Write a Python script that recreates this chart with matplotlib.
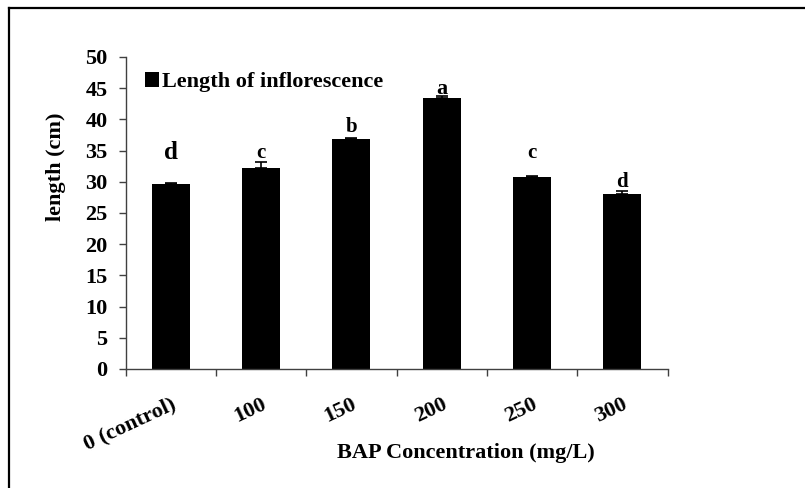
import matplotlib
matplotlib.use("Agg")
import matplotlib.pyplot as plt
from matplotlib.lines import Line2D
import numpy as np

# ---- data ----
categories = ["0 (control)", "100", "150", "200", "250", "300"]
lengths = [29.6, 32.2, 36.8, 43.4, 30.7, 28.1]
errors = [0.2, 1.0, 0.2, 0.3, 0.3, 0.4]
letters = ["d", "c", "b", "a", "c", "d"]
series_name = "Length of inflorescence"
x_title = "BAP Concentration (mg/L)"
y_title = "length (cm)"
y_ticks = [0, 5, 10, 15, 20, 25, 30, 35, 40, 45, 50]

# ---- style ----
plt.rcParams['font.family'] = ['Liberation Serif', 'DejaVu Serif']
plt.rcParams['font.weight'] = 'bold'
W, H = 805, 488
fig = plt.figure(figsize=(W / 100, H / 100), dpi=100)
ax = fig.add_axes([125.5 / W, 1 - 369 / H, (667.5 - 125.5) / W, (369 - 57) / H])

x = np.arange(len(categories))
ax.bar(x, lengths, width=0.42, color='black', label=series_name, zorder=2)
ax.errorbar(x, lengths, yerr=[np.zeros(len(errors)), errors], fmt='none',
            ecolor='black', elinewidth=1.2, capsize=4.5, capthick=1.2, zorder=3)

# significance letters (offset above error bar top, in points)
letter_offsets = [17, 3, 4.7, 2, 12.7, 3]
letter_sizes = [18, 15, 15, 16, 15, 15]
for xi, v, e, t, off, fs in zip(x, lengths, errors, letters, letter_offsets, letter_sizes):
    ax.annotate(t, (xi, v + e), xytext=(0, off), textcoords='offset points',
                ha='center', va='baseline', fontsize=fs, fontweight='bold')

ax.set_xlim(-0.5, len(categories) - 0.5)
ax.set_ylim(0, 50)
ax.set_yticks(y_ticks)
ax.set_yticklabels([str(t) for t in y_ticks], fontsize=16, fontweight='bold')
ax.tick_params(axis='y', direction='out', length=5, width=1, color='#404040', pad=8)

ax.set_xticks(np.arange(-0.5, len(categories), 1.0))
ax.set_xticklabels([])
ax.set_xticks(x, minor=True)
ax.set_xticklabels(categories, minor=True, rotation=25, ha='right', va='top',
                   rotation_mode='anchor', fontsize=16, fontweight='bold')
ax.tick_params(axis='x', which='major', direction='out', length=5, width=1, color='#404040')
ax.tick_params(axis='x', which='minor', length=0, pad=18)

for s in ['top', 'right']:
    ax.spines[s].set_visible(False)
for s in ['left', 'bottom']:
    ax.spines[s].set_color('#404040')
    ax.spines[s].set_linewidth(1)

fig.text(466 / W, 1 - 453 / H, x_title, ha='center', va='center', fontsize=16, fontweight='bold')
fig.text(56 / W, 1 - 167 / H, y_title, ha='center', va='center', rotation=90,
         fontsize=16, fontweight='bold')

leg = ax.legend(loc='upper left', bbox_to_anchor=(19 / 542, 1 - 15 / 312), frameon=False,
                prop={'size': 16, 'weight': 'bold'}, handlelength=0.65, handleheight=0.65,
                handletextpad=0.15, borderpad=0, borderaxespad=0)

# outer frame lines (top and left)
fig.add_artist(Line2D([9 / W, 1], [1 - 8 / H, 1 - 8 / H], transform=fig.transFigure,
                      color='black', linewidth=1.6))
fig.add_artist(Line2D([9 / W, 9 / W], [0, 1 - 8 / H], transform=fig.transFigure,
                      color='black', linewidth=1.6))

fig.savefig("out.png", dpi=100)
